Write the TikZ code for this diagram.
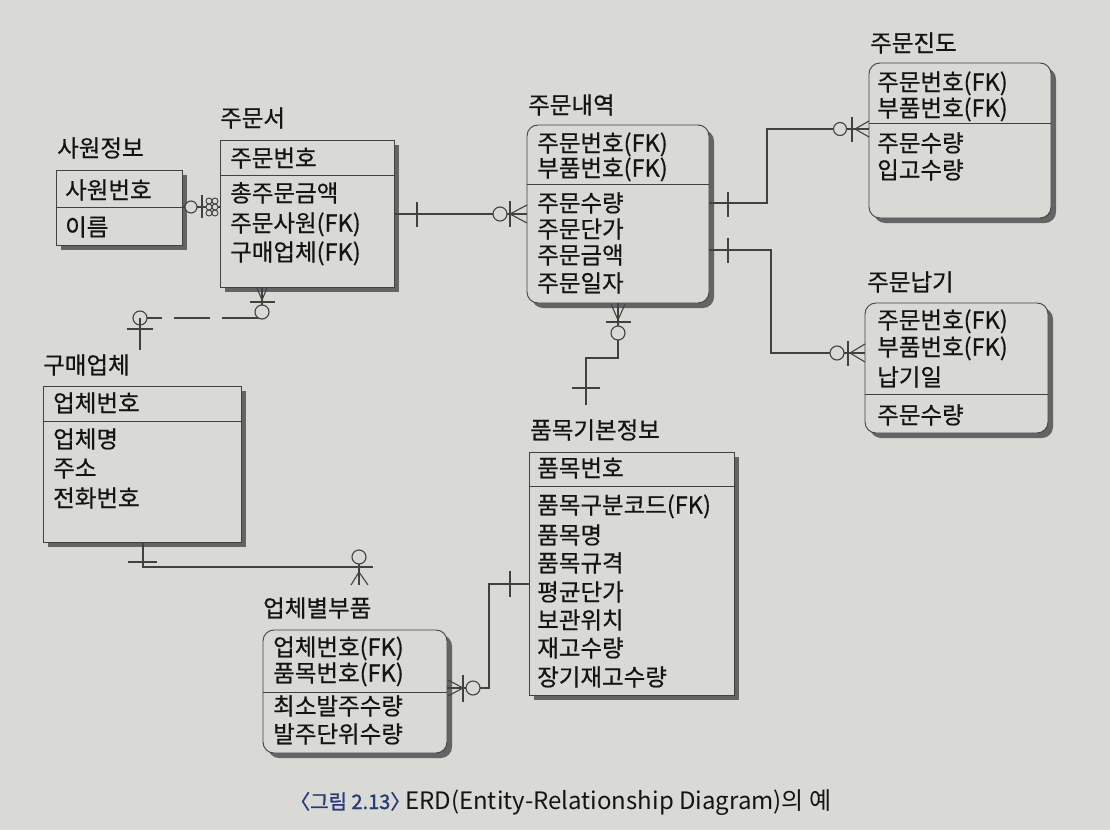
\documentclass[tikz,border=0pt]{standalone}
\usepackage{fontspec}
\newfontfamily\kr[FakeBold=0.6]{Noto Sans CJK KR}
\newfontfamily\krcap{Noto Sans CJK KR}
\newfontfamily\krcapb[FakeBold=1.2]{Noto Sans CJK KR}
\usetikzlibrary{fit,shadows}
\definecolor{paper}{RGB}{217,217,214}
\definecolor{ink}{RGB}{20,20,20}
\definecolor{edge}{RGB}{65,65,65}
\definecolor{shade}{RGB}{100,100,100}
\definecolor{capblue}{RGB}{38,58,120}
\tikzset{
  ebox/.style={draw=edge, line width=0.9pt, fill=paper, inner sep=0pt,
    general shadow={fill=shade, shadow xshift=5pt, shadow yshift=-5pt}},
  rbox/.style={ebox, rounded corners=11pt},
  divider/.style={draw=edge, line width=0.8pt},
  lbl/.style={anchor=base west, inner sep=0pt, yshift=-8.7pt, text=ink, font=\kr\fontsize{23.5}{28}\selectfont},
  rel/.style={draw=edge, line width=1.1pt},
  ring/.style={draw=edge, line width=1.1pt, fill=paper},
  caption/.style={anchor=base west, inner sep=0pt},
}
\begin{document}
\begin{tikzpicture}[x=1pt,y=-1pt]
\fill[paper] (0,0) rectangle (1110,830);
\useasboundingbox (0,0) rectangle (1110,830);

% ---------- entity boxes ----------
\node[ebox, fit={(56,170) (182,245)}] (sawon) {};
\node[ebox, fit={(220,140) (394,287)}] (jumunseo) {};
\node[rbox, fit={(527,125) (709,303)}] (naeyeok) {};
\node[rbox, fit={(869,63) (1051,218)}] (jindo) {};
\node[rbox, fit={(865,303) (1048,433)}] (napgi) {};
\node[ebox, fit={(43,386) (241,542)}] (gumae) {};
\node[ebox, fit={(529,452) (734,695)}] (pummok) {};
\node[rbox, fit={(263,630) (447,753)}] (ubche) {};

\draw[divider] (sawon.west |- 0,207) -- (sawon.east |- 0,207);
\draw[divider] (jumunseo.west |- 0,175) -- (jumunseo.east |- 0,175);
\draw[divider] (naeyeok.west |- 0,184) -- (naeyeok.east |- 0,184);
\draw[divider] (jindo.west |- 0,123) -- (jindo.east |- 0,123);
\draw[divider] (napgi.west |- 0,394) -- (napgi.east |- 0,394);
\draw[divider] (gumae.west |- 0,421) -- (gumae.east |- 0,421);
\draw[divider] (pummok.west |- 0,486) -- (pummok.east |- 0,486);
\draw[divider] (ubche.west |- 0,692) -- (ubche.east |- 0,692);

% ---------- titles ----------
\node[lbl] (t-sawon) at (57,148) {사원정보};
\node[lbl] (t-jumunseo) at (220,118) {주문서};
\node[lbl] (t-naeyeok) at (528,105) {주문내역};
\node[lbl] (t-jindo) at (870,43) {주문진도};
\node[lbl] (t-napgi) at (867,282) {주문납기};
\node[lbl] (t-gumae) at (43,365) {구매업체};
\node[lbl] (t-pummok) at (530,430) {품목기본정보};
\node[lbl] (t-ubche) at (263,608) {업체별부품};

% ---------- attributes ----------
\node[lbl] (a-sw1) at (65,190) {사원번호};
\node[lbl] (a-sw2) at (65,227) {이름};

\node[lbl] (a-js1) at (230,158) {주문번호};
\node[lbl] (a-js2) at (230,193) {총주문금액};
\node[lbl] (a-js3) at (230,223) {주문사원(FK)};
\node[lbl] (a-js4) at (230,252) {구매업체(FK)};

\node[lbl] (a-ny1) at (537,143) {주문번호(FK)};
\node[lbl] (a-ny2) at (537,168) {부품번호(FK)};
\node[lbl] (a-ny3) at (537,203) {주문수량};
\node[lbl] (a-ny4) at (537,229) {주문단가};
\node[lbl] (a-ny5) at (537,255) {주문금액};
\node[lbl] (a-ny6) at (537,283) {주문일자};

\node[lbl] (a-jd1) at (877,82) {주문번호(FK)};
\node[lbl] (a-jd2) at (877,108) {부품번호(FK)};
\node[lbl] (a-jd3) at (877,143) {주문수량};
\node[lbl] (a-jd4) at (877,170) {입고수량};

\node[lbl] (a-ng1) at (877,320) {주문번호(FK)};
\node[lbl] (a-ng2) at (877,347) {부품번호(FK)};
\node[lbl] (a-ng3) at (877,377) {납기일};
\node[lbl] (a-ng4) at (877,415) {주문수량};

\node[lbl] (a-gm1) at (53,403) {업체번호};
\node[lbl] (a-gm2) at (53,439) {업체명};
\node[lbl] (a-gm3) at (53,468) {주소};
\node[lbl] (a-gm4) at (53,498) {전화번호};

\node[lbl] (a-pm1) at (537,468) {품목번호};
\node[lbl] (a-pm2) at (537,505) {품목구분코드(FK)};
\node[lbl] (a-pm3) at (537,535) {품목명};
\node[lbl] (a-pm4) at (537,563) {품목규격};
\node[lbl] (a-pm5) at (537,592) {평균단가};
\node[lbl] (a-pm6) at (537,620) {보관위치};
\node[lbl] (a-pm7) at (537,648) {재고수량};
\node[lbl] (a-pm8) at (537,677) {장기재고수량};

\node[lbl] (a-ub1) at (273,647) {업체번호(FK)};
\node[lbl] (a-ub2) at (273,673) {품목번호(FK)};
\node[lbl] (a-ub3) at (273,706) {최소발주수량};
\node[lbl] (a-ub4) at (273,734) {발주단위수량};

% ---------- relationships ----------
% 사원정보 -- 주문서
\draw[rel] (sawon.east |- 0,207) -- (jumunseo.west |- 0,207);
\draw[ring] (191,207) circle[radius=6pt];
\draw[rel] (202,195) -- (202,218);
\foreach \dx in {0,6} \foreach \dy in {-6,0,6}
  \draw[draw=edge, line width=0.9pt, fill=paper] (209+\dx,207+\dy) circle[radius=3pt];

% 주문서 -- 주문내역
\draw[rel] (jumunseo.east |- 0,214) -- (naeyeok.west |- 0,214);
\draw[rel] (417,202) -- (417,227);
\draw[ring] (500,214) circle[radius=7pt];
\draw[rel] (510,201) -- (510,227);
\draw[rel] (527,205) -- (510,214) -- (527,223);

% 주문서 -- (구매업체), dashed
\coordinate (gm-end) at (140,350);
\draw[rel, dash pattern=on 71pt off 12pt on 36pt off 12pt on 60pt off 12pt]
  (jumunseo.south -| 262,0) -- (262,318) -- (140,318) -- (gm-end);
\draw[rel] (257,288) -- (262,300) -- (267,288);
\draw[rel] (250,302) -- (275,302);
\draw[ring] (262,312) circle[radius=7pt];
\draw[ring] (140,318) circle[radius=7pt];
\draw[rel] (140,318) -- (gm-end);
\draw[rel] (127,329) -- (153,329);

% 주문내역 -- 주문진도
\draw[rel] (naeyeok.east |- 0,203) -- (767,203) -- (767,129) -- (jindo.west |- 0,129);
\draw[rel] (728,192) -- (728,217);
\draw[ring] (840,129) circle[radius=6.5pt];
\draw[rel] (852,117) -- (852,142);
\draw[rel] (869,121) -- (855,129) -- (869,137);

% 주문내역 -- 주문납기
\draw[rel] (naeyeok.east |- 0,250) -- (771,250) -- (771,353) -- (napgi.west |- 0,353);
\draw[rel] (728,238) -- (728,263);
\draw[ring] (837,353) circle[radius=7pt];
\draw[rel] (848,341) -- (848,366);
\draw[rel] (865,344) -- (850,353) -- (865,362);

% 주문내역 -- (품목기본정보)
\coordinate (pm-end) at (586,405);
\draw[rel] (naeyeok.south) -- (618,358) -- (586,358) -- (pm-end);
\draw[rel] (611,304) -- (618,320) -- (625,304);
\draw[rel] (606,322) -- (631,322);
\draw[ring] (618,333) circle[radius=7pt];
\draw[rel] (572,388) -- (600,388);

% 구매업체 -- (업체별부품)
\coordinate (ub-end) at (359,585);
\draw[rel] (gumae.south -| 143,0) -- (143,567) -- (373,567);
\draw[rel] (128,562) -- (157,562);
\draw[rel] (359,560) -- (ub-end);
\draw[ring] (359,557) circle[radius=7pt];
\draw[rel] (346,567) -- (373,567);
\draw[rel] (351,585) -- (359,572) -- (368,585);

% 업체별부품 -- 품목기본정보
\draw[rel] (ubche.east |- 0,688) -- (489,688) -- (489,584) -- (pummok.west |- 0,584);
\draw[rel] (448,680) -- (463,688) -- (448,696);
\draw[rel] (463,675) -- (463,702);
\draw[ring] (473,688) circle[radius=7pt];
\draw[rel] (510,571) -- (510,597);

% ---------- caption ----------
\node[caption, text=capblue, font=\krcapb\fontsize{20}{24}\selectfont] (figno) at (290,809) {〈그림 2.13〉};
\node[caption, text=ink, font=\krcap\fontsize{24}{28}\selectfont] (figcap) at (405,809) {ERD(Entity-Relationship Diagram)의 예};
\end{tikzpicture}
\end{document}
